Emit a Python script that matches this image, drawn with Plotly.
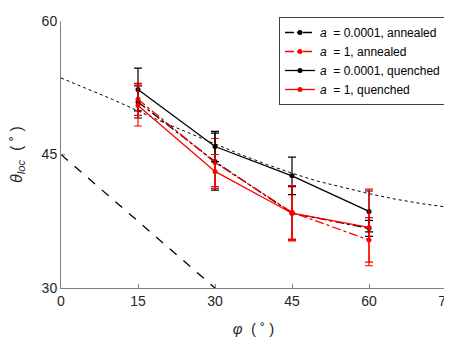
import plotly.graph_objects as go

# ---------------------------------------
# Data
# ---------------------------------------
phi = [15, 30, 45, 60]

# a = 0.0001, annealed (black, dash-dot)
black_annealed = [50.9, 44.2, 38.4, 36.7]
black_annealed_err = [1.8, 3.2, 3.0, 0.9]

# a = 1, annealed (red, dash-dot)
red_annealed = [51.2, 44.1, 38.5, 35.4]
red_annealed_err = [1.8, 2.7, 3.0, 2.5]

# a = 0.0001, quenched (black, solid)
black_quenched = [52.3, 45.9, 42.6, 38.6]
black_quenched_err = [2.4, 1.7, 2.1, 2.3]

# a = 1, quenched (red, solid)
red_quenched = [50.5, 43.1, 38.4, 36.8]
red_quenched_err = [2.3, 1.9, 3.1, 4.3]

# dotted reference curve
curve_phi = [0, 5, 10, 15, 20, 25, 30, 35, 40, 45, 50, 55, 60, 65, 70, 75]
curve_theta = [53.6, 52.4, 51.2, 49.9, 48.6, 47.4, 46.2, 45.0, 43.9, 42.9,
               42.0, 41.3, 40.6, 40.0, 39.5, 39.1]

# dashed reference line
line_phi = [0, 30]
line_theta = [45, 30]

x_ticks = [0, 15, 30, 45, 60, 75]
y_ticks = [30, 45, 60]

FONT = "Liberation Sans, Arial, Helvetica, sans-serif"
SP = "\u00a0"
DEG = "(" + SP + "˚" + SP + ")"

fig = go.Figure()

# reference lines (not in legend)
fig.add_trace(go.Scatter(x=curve_phi, y=curve_theta, mode="lines",
                         line=dict(color="black", width=1, dash="dot"),
                         showlegend=False, hoverinfo="skip"))
fig.add_trace(go.Scatter(x=line_phi, y=line_theta, mode="lines",
                         line=dict(color="black", width=1.3, dash="dash"),
                         showlegend=False, hoverinfo="skip"))


def add_series(y, err, color, dash, name):
    fig.add_trace(go.Scatter(
        x=phi, y=y, mode="lines+markers", name=name,
        line=dict(color=color, width=1.3, dash=dash),
        marker=dict(color=color, size=5),
        error_y=dict(type="data", array=err, visible=True,
                     color=color, thickness=1.2, width=4),
    ))


add_series(black_annealed, black_annealed_err, "black", "dashdot",
           "<i>a</i>  = 0.0001, annealed")
add_series(red_annealed, red_annealed_err, "#ff0000", "dashdot",
           "<i>a</i>  = 1, annealed")
add_series(black_quenched, black_quenched_err, "black", "solid",
           "<i>a</i>  = 0.0001, quenched")
add_series(red_quenched, red_quenched_err, "#ff0000", "solid",
           "<i>a</i>  = 1, quenched")

axis_style = dict(
    showgrid=False, zeroline=False, showline=True,
    linecolor="#808080", linewidth=1,
    ticks="inside", ticklen=4, tickcolor="#808080",
    tickfont=dict(family=FONT, size=14, color="#262626"),
    mirror=False, automargin=False,
)

# the page body adds an 8px offset, margins compensate for it
fig.update_layout(
    width=452, height=342,
    margin=dict(l=53, r=14, t=9, b=62),
    plot_bgcolor="white", paper_bgcolor="white",
    font=dict(family=FONT, size=14, color="#262626"),
    xaxis=dict(range=[0, 75], tickvals=x_ticks,
               title=dict(text="<i>φ</i>" + SP * 2 + DEG,
                          font=dict(family=FONT, size=15)),
               **axis_style),
    yaxis=dict(range=[30, 60], tickvals=y_ticks,
               title=dict(text="<i>θ</i><sub><i>loc</i></sub>" + SP * 2 + DEG,
                          font=dict(family=FONT, size=16)),
               **axis_style),
    legend=dict(x=1.0, y=1.015, xanchor="right", yanchor="top",
                bgcolor="white", bordercolor="#404040", borderwidth=1,
                font=dict(family=FONT, size=12, color="black"),
                tracegroupgap=0, itemwidth=30),
    showlegend=True,
)

fig.write_html("out.html")
